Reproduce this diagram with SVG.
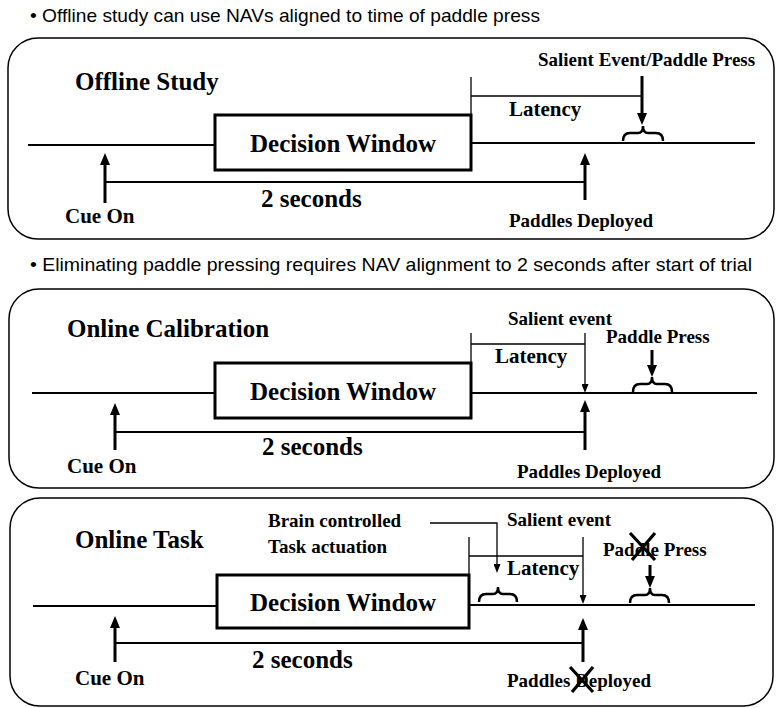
<svg xmlns="http://www.w3.org/2000/svg" width="777" height="708" viewBox="0 0 777 708">
  <style>
    .panel { fill: none; stroke: #000; stroke-width: 1.5; }
    .box { fill: #fff; stroke: #000; stroke-width: 3; }
    .ln { fill: none; stroke: #000; stroke-width: 2; }
    .thin { fill: none; stroke: #000; stroke-width: 1.3; }
    .thick { fill: none; stroke: #000; stroke-width: 3; }
    .brace { fill: none; stroke: #000; stroke-width: 2.5; }
    .cross { stroke: #000; stroke-width: 3.2; }
    text.serif { font-family: "Liberation Serif", "Times New Roman", serif; font-weight: bold; fill: #000; }
    .title { font-size: 25px; }
    .big { font-size: 25px; }
    .mid { font-size: 21px; }
    .sm { font-size: 19px; }
    text.bullet { font-family: "Liberation Sans", Arial, sans-serif; font-size: 19px; fill: #000; }
  </style>
  <defs>
    <marker id="headThick" viewBox="0 0 12 10" refX="3" refY="5" markerWidth="12" markerHeight="10" markerUnits="userSpaceOnUse" orient="auto">
      <path d="M0,0 L12,5 L0,10 z" fill="#000"/>
    </marker>
    <marker id="headThin" viewBox="0 0 9 7" refX="2" refY="3.5" markerWidth="9" markerHeight="7" markerUnits="userSpaceOnUse" orient="auto">
      <path d="M0,0 L9,3.5 L0,7 z" fill="#000"/>
    </marker>
  </defs>

  <!-- bullet notes -->
  <text class="bullet" x="30" y="22" textLength="510" lengthAdjust="spacingAndGlyphs">• Offline study can use NAVs aligned to time of paddle press</text>
  <text class="bullet" x="30" y="271" textLength="722" lengthAdjust="spacingAndGlyphs">• Eliminating paddle pressing requires NAV alignment to 2 seconds after start of trial</text>

  <!-- panel 1: offline study -->
  <g id="offline-study">
    <rect class="panel" x="8" y="38" width="766" height="201" rx="30"/>
    <text class="serif title" x="75" y="90">Offline Study</text>
    <text class="serif sm" x="538" y="66">Salient Event/Paddle Press</text>
    <text class="serif mid" x="509" y="116">Latency</text>
    <text class="serif big" x="261" y="207">2 seconds</text>
    <text class="serif mid" x="65" y="223">Cue On</text>
    <text class="serif sm" x="509" y="227">Paddles Deployed</text>
  </g>
  <g id="offline-window">
    <rect class="box" x="215" y="115" width="256" height="55"/>
    <text class="serif big" x="343" y="152" text-anchor="middle">Decision Window</text>
  </g>

  <!-- panel 2: online calibration -->
  <g id="online-calibration">
    <rect class="panel" x="9" y="289" width="765" height="199" rx="30"/>
    <text class="serif title" x="67" y="337">Online Calibration</text>
    <text class="serif sm" x="508" y="325">Salient event</text>
    <text class="serif sm" x="606" y="343">Paddle Press</text>
    <text class="serif mid" x="495" y="363">Latency</text>
    <text class="serif big" x="262" y="455">2 seconds</text>
    <text class="serif mid" x="67" y="473">Cue On</text>
    <text class="serif sm" x="517" y="478">Paddles Deployed</text>
  </g>
  <g id="calibration-window">
    <rect class="box" x="215" y="363" width="256" height="55"/>
    <text class="serif big" x="343" y="400" text-anchor="middle">Decision Window</text>
  </g>

  <!-- panel 3: online task -->
  <g id="online-task">
    <rect class="panel" x="10" y="498" width="763" height="208" rx="30"/>
    <text class="serif title" x="75" y="548">Online Task</text>
    <text class="serif sm" x="268" y="527">Brain controlled</text>
    <text class="serif sm" x="268" y="553">Task actuation</text>
    <text class="serif sm" x="507" y="526">Salient event</text>
    <text class="serif mid" x="507" y="575">Latency</text>
    <text class="serif sm" x="603" y="556">Paddle Press</text>
    <text class="serif big" x="252" y="668">2 seconds</text>
    <text class="serif mid" x="75" y="685">Cue On</text>
    <text class="serif sm" x="507" y="687">Paddles Deployed</text>
    <!-- crossed-out paddle events -->
    <line class="cross" x1="630" y1="533" x2="655" y2="560"/>
    <line class="cross" x1="655" y1="533" x2="632" y2="560"/>
    <line class="cross" x1="570" y1="667" x2="593" y2="692"/>
    <line class="cross" x1="593" y1="667" x2="572" y2="692"/>
  </g>
  <g id="task-window">
    <rect class="box" x="217" y="575" width="252" height="53"/>
    <text class="serif big" x="343" y="611" text-anchor="middle">Decision Window</text>
  </g>

  <g id="connectors">
    <!-- panel 1 -->
    <line class="ln" x1="28" y1="145" x2="215" y2="145"/>
    <line class="ln" x1="471" y1="143" x2="755" y2="143"/>
    <line class="thin" x1="471" y1="77" x2="471" y2="115"/>
    <line class="thin" x1="471" y1="96" x2="642" y2="96"/>
    <line class="thick" x1="642" y1="76" x2="642" y2="116" marker-end="url(#headThick)"/>
    <path class="brace" d="M623,141 Q623,133 630,133 L638,133 Q643,133 643,126 Q643,133 648,133 L656,133 Q663,133 663,141"/>
    <line class="thick" x1="105" y1="203" x2="105" y2="162" marker-end="url(#headThick)"/>
    <line class="ln" x1="105" y1="182" x2="585" y2="182"/>
    <line class="thick" x1="585" y1="200" x2="585" y2="162" marker-end="url(#headThick)"/>

    <!-- panel 2 -->
    <line class="ln" x1="32" y1="393" x2="215" y2="393"/>
    <line class="ln" x1="471" y1="393" x2="757" y2="393"/>
    <line class="thin" x1="471" y1="333" x2="471" y2="363"/>
    <line class="thin" x1="471" y1="344" x2="585" y2="344"/>
    <line class="thin" x1="585" y1="333" x2="585" y2="386" marker-end="url(#headThin)"/>
    <line class="thick" x1="652" y1="350" x2="652" y2="368" marker-end="url(#headThick)"/>
    <path class="brace" d="M633,392 Q633,384 640,384 L647,384 Q652,384 652,377 Q652,384 657,384 L665,384 Q672,384 672,392"/>
    <line class="thick" x1="115" y1="450" x2="115" y2="412" marker-end="url(#headThick)"/>
    <line class="ln" x1="115" y1="432" x2="585" y2="432"/>
    <line class="thick" x1="585" y1="450" x2="585" y2="409" marker-end="url(#headThick)"/>

    <!-- panel 3 -->
    <line class="ln" x1="33" y1="606" x2="217" y2="606"/>
    <line class="ln" x1="469" y1="605" x2="755" y2="605"/>
    <polyline class="thin" points="430,523 497,523 497,566" marker-end="url(#headThin)"/>
    <path class="brace" d="M479,602 Q479,594 486,594 L493,594 Q498,594 498,587 Q498,594 503,594 L510,594 Q517,594 517,602"/>
    <line class="thin" x1="469" y1="537" x2="469" y2="575"/>
    <line class="thin" x1="469" y1="556" x2="583" y2="556"/>
    <line class="thin" x1="583" y1="537" x2="583" y2="597" marker-end="url(#headThin)"/>
    <line class="thick" x1="650" y1="565" x2="650" y2="579" marker-end="url(#headThick)"/>
    <path class="brace" d="M630,603 Q630,595 637,595 L645,595 Q650,595 650,588 Q650,595 655,595 L662,595 Q669,595 669,603"/>
    <line class="thick" x1="115" y1="662" x2="115" y2="625" marker-end="url(#headThick)"/>
    <line class="ln" x1="115" y1="643" x2="583" y2="643"/>
    <line class="thick" x1="583" y1="662" x2="583" y2="627" marker-end="url(#headThick)"/>
  </g>
</svg>
